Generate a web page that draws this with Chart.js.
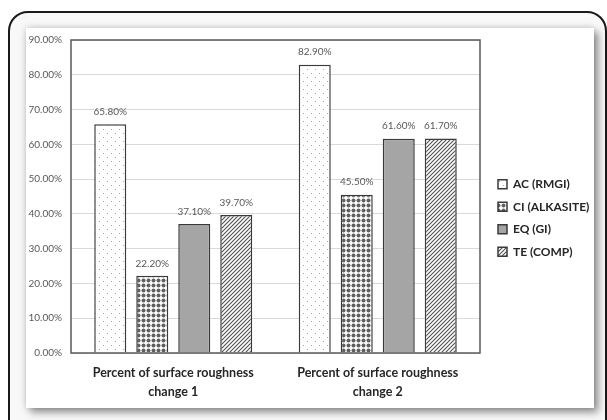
<!DOCTYPE html>
<html><head><meta charset="utf-8">
<script src="https://cdn.jsdelivr.net/npm/chart.js@4.4.1/dist/chart.umd.min.js"></script>
<style>
html,body{margin:0;padding:0;background:#fff;width:607px;height:420px;overflow:hidden;}
.frame{position:absolute;left:8px;top:11px;width:599px;height:440px;box-sizing:border-box;border:2px solid #1a1a1a;border-radius:20px;background:#f8f8f8;}
.panel{position:absolute;left:26px;top:28px;width:568px;height:380px;background:#fff;box-shadow:4px 4px 8px rgba(0,0,0,0.45),-1px -1px 6px rgba(0,0,0,0.12);}
canvas{display:block;}
</style></head><body>
<div class="frame"></div>
<div class="panel"><canvas id="c" width="568" height="380"></canvas></div>
<script>
const categories = [['Percent of surface roughness','change 1'],['Percent of surface roughness','change 2']];
const seriesNames = ['AC (RMGI)','CI (ALKASITE)','EQ (GI)','TE (COMP)'];
const acValues = [65.8, 82.9];
const ciValues = [22.2, 45.5];
const eqValues = [37.1, 61.6];
const teValues = [39.7, 61.7];
const yMin = 0, yMax = 90, yStep = 10;

const mainCtx = document.getElementById('c').getContext('2d');
function makePattern(size, draw){
  const c=document.createElement('canvas'); c.width=size; c.height=size;
  const x=c.getContext('2d'); x.fillStyle='#fff'; x.fillRect(0,0,size,size);
  draw(x,size);
  return mainCtx.createPattern(c,'repeat');
}
const dotPattern = makePattern(8,(x)=>{x.fillStyle='#a8a8a8';x.fillRect(1,1,1,1);x.fillRect(5,5,1,1);});
const diamondPattern = makePattern(5,(x)=>{x.fillStyle='#606060';x.beginPath();x.arc(2.5,2.5,2.0,0,Math.PI*2);x.fill();});
const stripePattern = makePattern(4,(x)=>{x.strokeStyle='#505050';x.lineWidth=1.1;x.beginPath();x.moveTo(-1,5);x.lineTo(5,-1);x.moveTo(-1,1);x.lineTo(1,-1);x.moveTo(3,5);x.lineTo(5,3);x.stroke();});

const valueLabels = {
  id:'valueLabels',
  afterDatasetsDraw(chart){
    const ctx=chart.ctx; ctx.save();
    ctx.font='10px Lato'; ctx.fillStyle='#595959'; ctx.textAlign='center'; ctx.textBaseline='middle';
    chart.data.datasets.forEach((ds,i)=>{
      chart.getDatasetMeta(i).data.forEach((bar,j)=>{
        ctx.fillText(ds.data[j].toFixed(2)+'%', bar.x, bar.y-12.5);
      });
    });
    ctx.restore();
  }
};
const plotBorder = {
  id:'plotBorder',
  afterDatasetsDraw(chart){
    const {left,top,right,bottom}=chart.chartArea; const ctx=chart.ctx;
    ctx.save(); ctx.strokeStyle='#595959'; ctx.lineWidth=1.5;
    ctx.strokeRect(left,top,right-left,bottom-top); ctx.restore();
  }
};
const legendGap = 18;
const legendOffset = {
  id:'legendOffset',
  afterLayout(chart){
    const lg = chart.legend; if(!lg) return;
    const pad = lg.options.labels.padding;
    const dx = chart.chartArea.right + legendGap - pad - lg.left;
    lg.left += dx; lg.right += dx;
  }
};

let chart;
function build(){
  const common = {borderColor:'#3a3a3a', borderWidth:1.5, categoryPercentage:0.8215, barPercentage:0.762};
  chart = new Chart(mainCtx,{
    type:'bar',
    data:{
      labels:categories,
      datasets:[
        Object.assign({label:seriesNames[0], data:acValues, backgroundColor:dotPattern}, common),
        Object.assign({label:seriesNames[1], data:ciValues, backgroundColor:diamondPattern}, common),
        Object.assign({label:seriesNames[2], data:eqValues, backgroundColor:'#a5a5a5'}, common),
        Object.assign({label:seriesNames[3], data:teValues, backgroundColor:stripePattern}, common)
      ]
    },
    options:{
      responsive:false, animation:false, devicePixelRatio:1,
      layout:{padding:{top:0,bottom:0,left:0,right:0}},
      plugins:{
        tooltip:{enabled:false},
        legend:{position:'right', align:'center',
          labels:{boxWidth:9, boxHeight:9, padding:10.5, color:'#262626', font:{family:'Lato', size:12, weight:'bold'}}}
      },
      scales:{
        x:{grid:{display:false}, border:{display:false},
           ticks:{color:'#262626', font:{family:'Lato', size:12.5, weight:'bold', lineHeight:1.5}, padding:3, maxRotation:0, autoSkip:false},
           afterFit(s){s.height=55;}},
        y:{min:yMin, max:yMax, position:'left',
           ticks:{stepSize:yStep, color:'#595959', font:{family:'Lato', size:10, lineHeight:0.6}, padding:9, callback:v=>v.toFixed(2)+'%'},
           grid:{color:'#d9d9d9', lineWidth:1, drawTicks:false}, border:{display:false},
           afterFit(s){s.width=45;}}
      }
    },
    plugins:[legendOffset, valueLabels, plotBorder]
  });
  const lw = chart.legend.width;
  chart.options.layout.padding.right = Math.max(0, 568 - 454 - lw);
  chart.update('none');
}
Promise.all([document.fonts.load('bold 12px Lato'),document.fonts.load('10px Lato')]).catch(()=>{}).then(build);
</script>
</body></html>
